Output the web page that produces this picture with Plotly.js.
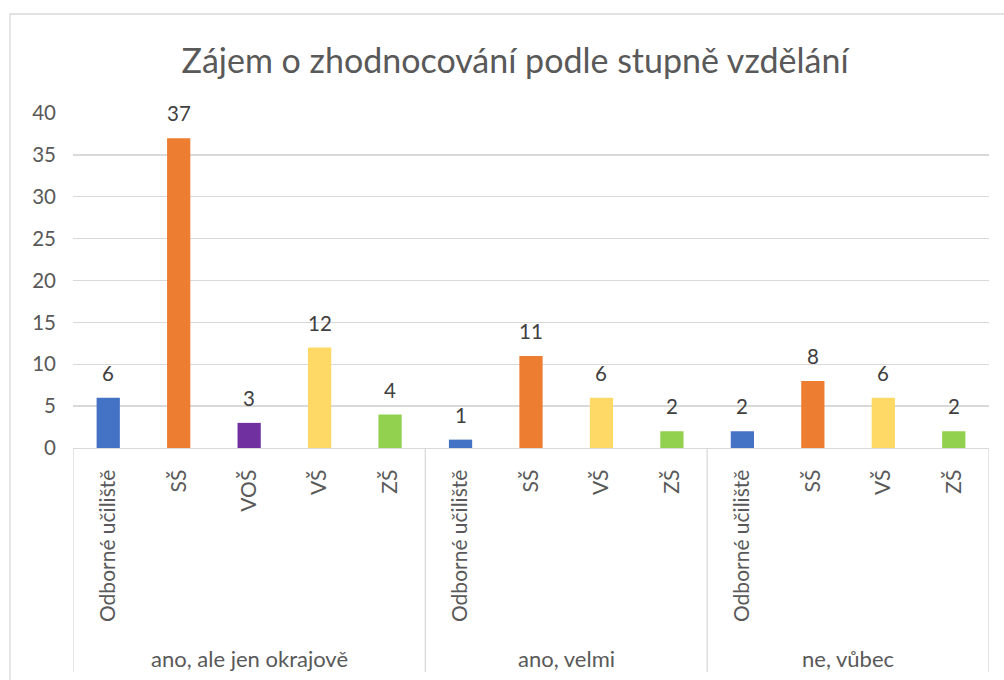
<!DOCTYPE html>
<html>
<head>
<meta charset="utf-8">
<script src="https://cdn.plot.ly/plotly-3.0.1.min.js"></script>
<style>html,body{margin:0;padding:0;background:#fff;}#chart{width:1004px;height:680px;}</style>
</head>
<body>
<div id="chart"></div>
<script>
// Data
const groups = ["ano, ale jen okrajově", "ano, velmi", "ne, vůbec"];
const groupSubs = [
  ["Odborné učiliště", "SŠ", "VOŠ", "VŠ", "ZŠ"],
  ["Odborné učiliště", "SŠ", "VŠ", "ZŠ"],
  ["Odborné učiliště", "SŠ", "VŠ", "ZŠ"]
];
const groupValues = [
  [6, 37, 3, 12, 4],
  [1, 11, 6, 2],
  [2, 8, 6, 2]
];
const yTicks = [0, 5, 10, 15, 20, 25, 30, 35, 40];
const subColors = {
  "Odborné učiliště": "#4472C4",
  "SŠ": "#ED7D31",
  "VOŠ": "#7030A0",
  "VŠ": "#FFD966",
  "ZŠ": "#92D050"
};

const FONT = "Lato, 'Open Sans', sans-serif";
const TXT = "#595959";
const GRID = "#d9d9d9";

// flatten
const xs = [], ys = [], labels = [], colors = [];
const groupBounds = [];
let idx = 0;
groupSubs.forEach((subs, g) => {
  const start = idx;
  subs.forEach((s, k) => {
    xs.push(idx); ys.push(groupValues[g][k]); labels.push(s); colors.push(subColors[s]);
    idx++;
  });
  groupBounds.push([start - 0.5, idx - 0.5]);
});

const trace = {
  type: "bar",
  x: xs, y: ys,
  marker: {color: colors},
  width: 0.33,
  hoverinfo: "x+y"
};

const annotations = [];
xs.forEach((x, i) => {
  annotations.push({
    x: x, y: ys[i], xref: "x", yref: "y",
    text: String(ys[i]), showarrow: false,
    yanchor: "bottom", yshift: 11,
    font: {family: FONT, size: 20.5, color: "#404040"}
  });
});

const plotH = 680 - 113 - 232;
const shapes = [];
const divBottom = -(672 - 448) / plotH;
const divXs = [groupBounds[0][0]].concat(groupBounds.map(b => b[1]));
divXs.forEach(dx => {
  shapes.push({type: "line", xref: "x", yref: "paper", x0: dx, x1: dx, y0: 0, y1: divBottom,
    line: {color: GRID, width: 1.3}});
});
groups.forEach((g, i) => {
  annotations.push({
    x: (groupBounds[i][0] + groupBounds[i][1]) / 2, xref: "x",
    y: -(658 - 448) / plotH, yref: "paper",
    text: g, showarrow: false, yanchor: "middle",
    font: {family: FONT, size: 22, color: TXT}
  });
});
// outer chart border
const plotW = 1004 - 73 - 15;
shapes.push({type: "rect", xref: "paper", yref: "paper",
  x0: (10 - 73) / plotW, x1: (1030 - 73) / plotW,
  y0: (448 - 14) / plotH, y1: (448 - 700) / plotH,
  line: {color: GRID, width: 1.3}, fillcolor: "rgba(0,0,0,0)", layer: "below"});

const layout = {
  width: 1004, height: 680,
  margin: {l: 73, r: 15, t: 113, b: 232, pad: 0},
  paper_bgcolor: "#fff", plot_bgcolor: "#fff",
  showlegend: false,
  font: {family: FONT, color: TXT},
  title: {text: "Zájem o zhodnocování podle stupně vzdělání",
    font: {family: FONT, size: 34, color: TXT},
    x: 0.513, xanchor: "center", xref: "container",
    y: 1 - 61 / 680, yanchor: "middle", yref: "container"},
  xaxis: {
    type: "linear", range: [-0.5, xs.length - 0.5],
    tickmode: "array", tickvals: xs, ticktext: labels,
    tickangle: -90, tickfont: {family: FONT, size: 21, color: TXT},
    ticks: "", showgrid: false, zeroline: false,
    showline: true, linecolor: GRID, linewidth: 1.3,
    ticklabelstandoff: 12, fixedrange: true
  },
  yaxis: {
    range: [0, 40], tickmode: "array", tickvals: yTicks,
    tickfont: {family: FONT, size: 20.5, color: TXT},
    ticks: "", showgrid: true, gridcolor: GRID, gridwidth: 1.3,
    zeroline: false, showline: false,
    ticklabelstandoff: 16, fixedrange: true
  },
  shapes: shapes,
  annotations: annotations
};

Plotly.newPlot("chart", [trace], layout, {displayModeBar: false, staticPlot: true});
</script>
</body>
</html>
